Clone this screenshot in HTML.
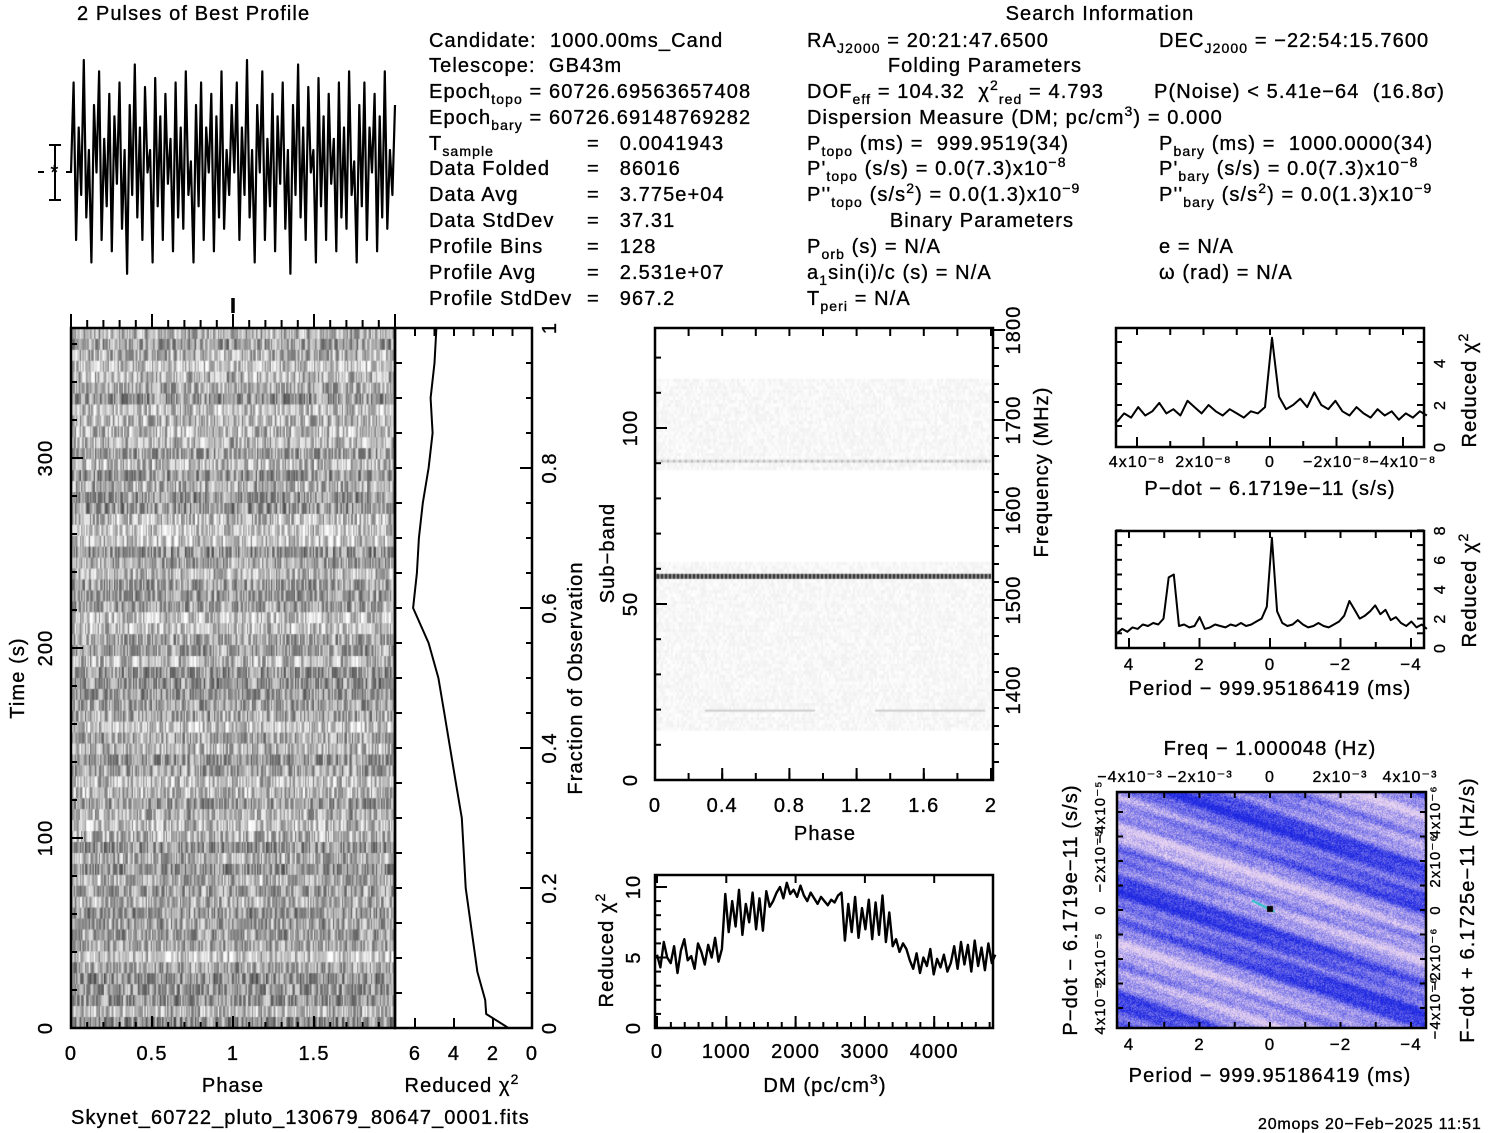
<!DOCTYPE html>
<html><head><meta charset="utf-8"><style>
html,body{margin:0;padding:0;background:#fff;width:1512px;height:1133px;overflow:hidden;position:relative}
canvas{position:absolute}
svg{position:absolute;left:0;top:0}
text{font-family:"Liberation Sans",sans-serif;font-size:20px;fill:#000;letter-spacing:1.1px;white-space:pre;stroke:#000;stroke-width:0.35px}
</style></head><body>
<canvas id="grey" width="324" height="700" style="left:71px;top:328px;width:324px;height:700px"></canvas>
<canvas id="sub" width="338" height="452" style="left:655px;top:328px;width:338px;height:452px"></canvas>
<canvas id="map" width="309" height="236" style="left:1117px;top:792px;width:309px;height:236px"></canvas>
<svg id="s" width="1512" height="1133">
<g>
<text x="77" y="20">2 Pulses of Best Profile</text>
<text x="1100" y="20" text-anchor="middle">Search Information</text>
</g>
<g>
<text x="429" y="47">Candidate:  1000.00ms_Cand</text>
<text x="429" y="72">Telescope:  GB43m</text>
<text x="429" y="98">Epoch<tspan font-size="14" dy="6">topo</tspan><tspan dy="-6"> = 60726.69563657408</tspan></text>
<text x="429" y="124">Epoch<tspan font-size="14" dy="6">bary</tspan><tspan dy="-6"> = 60726.69148769282</tspan></text>
<text x="429" y="150">T<tspan font-size="14" dy="6">sample</tspan></text><text x="587" y="150">=   0.0041943</text>
<text x="429" y="175">Data Folded</text><text x="587" y="175">=   86016</text>
<text x="429" y="201">Data Avg</text><text x="587" y="201">=   3.775e+04</text>
<text x="429" y="227">Data StdDev</text><text x="587" y="227">=   37.31</text>
<text x="429" y="253">Profile Bins</text><text x="587" y="253">=   128</text>
<text x="429" y="279">Profile Avg</text><text x="587" y="279">=   2.531e+07</text>
<text x="429" y="305">Profile StdDev</text><text x="587" y="305">=   967.2</text>
</g>
<g>
<text x="807" y="47">RA<tspan font-size="14" dy="6">J2000</tspan><tspan dy="-6"> = 20:21:47.6500</tspan></text>
<text x="985" y="72" text-anchor="middle">Folding Parameters</text>
<text x="807" y="98">DOF<tspan font-size="14" dy="6">eff</tspan><tspan dy="-6"> = 104.32  χ</tspan><tspan font-size="14" dy="-8">2</tspan><tspan font-size="14" dy="14">red</tspan><tspan dy="-6"> = 4.793</tspan></text>
<text x="807" y="124">Dispersion Measure (DM; pc/cm<tspan font-size="14" dy="-8">3</tspan><tspan dy="8">) = 0.000</tspan></text>
<text x="807" y="150">P<tspan font-size="14" dy="6">topo</tspan><tspan dy="-6"> (ms) =  999.9519(34)</tspan></text>
<text x="807" y="175">P'<tspan font-size="14" dy="6">topo</tspan><tspan dy="-6"> (s/s) = 0.0(7.3)x10</tspan><tspan font-size="14" dy="-8">−8</tspan></text>
<text x="807" y="201">P''<tspan font-size="14" dy="6">topo</tspan><tspan dy="-6"> (s/s</tspan><tspan font-size="14" dy="-8">2</tspan><tspan dy="8">) = 0.0(1.3)x10</tspan><tspan font-size="14" dy="-8">−9</tspan></text>
<text x="982" y="227" text-anchor="middle">Binary Parameters</text>
<text x="807" y="253">P<tspan font-size="14" dy="6">orb</tspan><tspan dy="-6"> (s) = N/A</tspan></text>
<text x="807" y="279">a<tspan font-size="14" dy="6">1</tspan><tspan dy="-6">sin(i)/c (s) = N/A</tspan></text>
<text x="807" y="305">T<tspan font-size="14" dy="6">peri</tspan><tspan dy="-6"> = N/A</tspan></text>
</g>
<g>
<text x="1159" y="47">DEC<tspan font-size="14" dy="6">J2000</tspan><tspan dy="-6"> = −22:54:15.7600</tspan></text>
<text x="1154" y="98">P(Noise) &lt; 5.41e−64  (16.8σ)</text>
<text x="1159" y="150">P<tspan font-size="14" dy="6">bary</tspan><tspan dy="-6"> (ms) =  1000.0000(34)</tspan></text>
<text x="1159" y="175">P'<tspan font-size="14" dy="6">bary</tspan><tspan dy="-6"> (s/s) = 0.0(7.3)x10</tspan><tspan font-size="14" dy="-8">−8</tspan></text>
<text x="1159" y="201">P''<tspan font-size="14" dy="6">bary</tspan><tspan dy="-6"> (s/s</tspan><tspan font-size="14" dy="-8">2</tspan><tspan dy="8">) = 0.0(1.3)x10</tspan><tspan font-size="14" dy="-8">−9</tspan></text>
<text x="1159" y="253">e = N/A</text>
<text x="1159" y="279">ω (rad) = N/A</text>
</g>
<g>
<text x="233" y="1092" text-anchor="middle">Phase</text>
<text x="462" y="1092" text-anchor="middle">Reduced χ<tspan font-size="14" dy="-8">2</tspan></text>
<text transform="translate(24,678) rotate(-90)" text-anchor="middle">Time (s)</text>
<text transform="translate(582,678) rotate(-90)" text-anchor="middle">Fraction of Observation</text>
<text transform="translate(614,553) rotate(-90)" text-anchor="middle">Sub−band</text>
<text transform="translate(1048,472) rotate(-90)" text-anchor="middle">Frequency (MHz)</text>
<text x="825" y="840" text-anchor="middle">Phase</text>
<text x="825" y="1092" text-anchor="middle">DM (pc/cm<tspan font-size="14" dy="-8">3</tspan><tspan dy="8">)</tspan></text>
<text transform="translate(613,950) rotate(-90)" text-anchor="middle">Reduced χ<tspan font-size="14" dy="-8">2</tspan></text>
<text transform="translate(1476,390) rotate(-90)" text-anchor="middle">Reduced χ<tspan font-size="14" dy="-8">2</tspan></text>
<text x="1270" y="495" text-anchor="middle">P−dot − 6.1719e−11 (s/s)</text>
<text transform="translate(1476,590) rotate(-90)" text-anchor="middle">Reduced χ<tspan font-size="14" dy="-8">2</tspan></text>
<text x="1270" y="695" text-anchor="middle">Period − 999.95186419 (ms)</text>
<text x="1270" y="755" text-anchor="middle">Freq − 1.000048 (Hz)</text>
<text transform="translate(1077,910) rotate(-90)" text-anchor="middle">P−dot − 6.1719e−11 (s/s)</text>
<text transform="translate(1474,910) rotate(-90)" text-anchor="middle">F−dot + 6.1725e−11 (Hz/s)</text>
<text x="1270" y="1082" text-anchor="middle">Period − 999.95186419 (ms)</text>
<text x="71" y="1124" font-size="21">Skynet_60722_pluto_130679_80647_0001.fits</text>
<text x="1258" y="1129" style="font-size:16px;letter-spacing:0.8px">20mops 20−Feb−2025 11:51</text>
</g>
<g id="marks"></g>
</svg>
<script>
// ---- data ----
const profileVals=[0.5,0.9,0.2,0.7,0.4,1.0,0.3,0.6,0.1,0.8,0.5,0.95,0.2,0.65,0.35,0.85,0.15,0.75,0.45,0.9,0.25,0.6,0.05,0.8,0.4,0.98,0.3,0.7,0.2,0.88,0.5,0.6,0.1,0.92,0.35,0.75,0.2,0.85,0.45,0.65,0.15,0.9,0.3,0.7,0.25,0.95,0.4,0.55,0.1,0.8,0.35,0.9,0.2,0.7,0.5,0.85,0.15,0.75,0.3,0.95,0.25,0.6,0.4,0.8];
const chiFractions=[0,0.02,0.04,0.08,0.12,0.16,0.2,0.25,0.3,0.35,0.4,0.45,0.5,0.55,0.6,0.65,0.7,0.75,0.8,0.85,0.9,0.95,1.0];
const chiValues=[1.2,2.35,2.4,2.8,3.0,3.2,3.4,3.5,3.6,3.9,4.2,4.5,4.8,5.3,6.1,5.9,5.8,5.6,5.3,5.1,5.2,5.0,4.9];
const dmStart=0, dmEnd=4880;
const dmChi=[5.2,4.3,6.1,5.0,4.6,5.8,3.9,5.5,6.3,4.8,5.1,4.2,6.0,5.4,4.5,5.9,5.0,6.4,4.7,5.6,
9.5,6.8,9.0,7.2,9.8,6.6,8.8,7.5,9.6,7.0,9.2,6.9,9.7,
8.6,9.0,9.6,10.0,9.2,10.3,9.5,9.8,9.3,10.1,9.4,9.0,9.6,9.2,8.8,9.3,9.0,8.7,9.1,8.9,9.4,
9.6,6.2,8.8,6.8,9.3,6.4,8.5,7.0,9.1,6.3,8.9,6.6,9.4,6.1,8.2,
5.8,6.3,5.4,6.0,5.6,4.8,
4.2,5.3,3.9,5.0,4.4,5.6,3.8,4.9,4.3,5.2,4.0,4.6,
5.8,4.2,6.1,4.5,5.9,4.0,6.2,4.4,5.7,4.1,6.0,4.6,5.2];
const pdotStart=4.6, pdotEnd=-4.72; // units of 1e-8
const pdotChi=[1.2,1.6,1.4,1.9,1.5,1.7,2.1,1.6,1.8,1.5,2.2,1.9,1.6,2.0,1.7,1.5,1.8,1.6,1.4,1.7,1.6,1.9,5.2,2.4,1.8,2.0,2.3,1.9,2.6,2.0,1.8,2.2,1.7,1.5,1.9,1.6,1.4,1.8,1.5,1.7,1.3,1.6,1.4,1.7,1.5];
const perStart=4.34, perEnd=-4.45; // ms
const perChi=[1.0,1.3,1.1,1.4,1.3,1.6,1.5,1.7,1.6,2.0,4.8,5.0,1.5,1.6,1.4,1.5,2.1,1.3,1.4,1.6,1.5,1.4,1.6,1.5,1.7,1.5,1.6,1.8,2.0,2.8,7.5,2.5,1.7,1.5,1.6,1.9,1.6,1.4,1.5,1.7,1.5,1.4,1.6,1.8,2.2,3.2,2.6,2.0,2.2,2.5,2.9,2.3,2.6,1.9,2.1,1.7,1.5,1.8,1.4,1.6,1.3];
const timeTicks=["0","100","200","300"];
const phaseTicks=["0","0.5","1","1.5"];
const chiTicks=["6","4","2","0"];
const fracTicks=["0","0.2","0.4","0.6","0.8","1"];
const subTicks=["0","50","100"];
const subPhaseTicks=["0","0.4","0.8","1.2","1.6","2"];
const freqTicks=["1400","1500","1600","1700","1800"];
const dmTicks=["0","1000","2000","3000","4000"];
const dmChiTicks=["0","5","10"];

const NS="http://www.w3.org/2000/svg";
const G=document.getElementById('marks');
function mk(tag,attrs,name){const e=document.createElementNS(NS,tag);for(const k in attrs)e.setAttribute(k,attrs[k]);


G.appendChild(e);return e;}
function ln(x1,y1,x2,y2,name,w){return mk('line',{x1,y1,x2,y2,stroke:'#000','stroke-width':w||2},name);}
function tx(x,y,s,name,anchor,rot,fs){const e=mk('text',{x:rot?0:x,y:rot?0:y,'text-anchor':anchor||'middle'},name);
if(rot)e.setAttribute('transform','translate('+x+','+y+') rotate(-90)');if(fs)e.style.fontSize=fs+'px';e.textContent=s;return e;}
function box(x,y,w,h,name){return mk('rect',{x,y,width:w,height:h,fill:'none',stroke:'#000','stroke-width':2.5},name);}
function poly(pts,name,w){return mk('polyline',{points:pts.map(p=>p[0].toFixed(1)+','+p[1].toFixed(1)).join(' '),fill:'none',stroke:'#000','stroke-width':w||2,'stroke-linejoin':'round'},name);}
function ticks(vals,pos,fixed,vert,len,dir,name){vals.forEach(v=>{const p=pos(v);
if(vert)ln(fixed,p,fixed+dir*len,p,name);else ln(p,fixed,p,fixed+dir*len,name);});}
function range(a,b,s){const r=[];for(let v=a;v<=b+1e-9;v+=s)r.push(+v.toFixed(6));return r;}

// ---- profile ----
const profX=i=>71+i*(324/(profileVals.length*2-1));
const profY=v=>285-v*225;
const pp=[];for(let k=0;k<2;k++)profileVals.forEach((v,i)=>pp.push([profX(k*profileVals.length+i),profY(v)]));
poly(pp,'profile-line',2.2);
ln(233,298,233,313,'peak-marker',3.5);
ln(55,145,55,200,'error-bar',2);ln(49,145,61,145,'error-cap-top',2);ln(49,200,61,200,'error-cap-bottom',2);
ln(38,172,44,172,'error-dash-left',2);ln(66,172,72,172,'error-dash-right',2);tx(55,179,'*','error-star');

// ---- time/phase greyscale ----
(function(){const c=document.getElementById('grey').getContext('2d');
let s=12345;function r(){s=(s*1103515245+12345)&0x7fffffff;return s/0x7fffffff;}
const rows=64,cols=256,rh=700/rows,cw=324/cols;const rowOff=[];for(let j=0;j<rows;j++)rowOff.push((r()-0.5)*60);
for(let j=0;j<rows;j++)for(let i=0;i<128;i++){const g=Math.max(40,Math.min(255,Math.round(170+rowOff[j]+(r()-0.5)*150)));
c.fillStyle='rgb('+g+','+g+','+g+')';c.fillRect(i*cw,j*rh,cw+0.6,rh+0.6);c.fillRect((i+128)*cw,j*rh,cw+0.6,rh+0.6);}})();
const tY=t=>1028-t*1.9, phX=p=>71+p*162;
box(71,328,324,700,'greyscale-frame');
ticks(range(0,360,20),tY,71,true,6,1,'time-minor-tick');
ticks(timeTicks.map(Number),tY,71,true,12,1,'time-major-tick');
timeTicks.forEach(t=>tx(52,tY(+t),t,'time-tick-label','middle',true));
ticks(range(0,2,0.1),phX,1028,false,6,-1,'phase-minor-tick');
ticks(range(0,2,0.1),phX,328,false,8,-1,'phase-top-tick');
ticks(range(0,2,0.5),phX,328,false,14,-1,'phase-top-major');
ticks(range(0,2,0.5),phX,1028,false,12,-1,'phase-major-tick');
phaseTicks.forEach(p=>tx(phX(+p),1060,p,'phase-tick-label'));

// ---- chi2 vs fraction ----
const cX=v=>532-v*19.5, fY=f=>1028-f*700;
box(395,328,137,700,'chi2-frame');
poly(chiFractions.map((f,i)=>[cX(chiValues[i]),fY(f)]),'chi2-fraction-line',2);
ticks(range(0,1,0.05),fY,395,true,7,1,'chi2-left-tick');
ticks(range(0,1,0.05),fY,532,true,6,-1,'fraction-minor-tick');
ticks(range(0,1,0.2),fY,532,true,12,-1,'fraction-major-tick');
ticks(range(0,6,1),cX,328,false,8,1,'chi2-top-tick');
ticks(range(0,6,2),cX,1028,false,10,-1,'chi2-bottom-tick');
chiTicks.forEach(v=>tx(cX(+v),1060,v,'chi2-tick-label'));
fracTicks.forEach(f=>tx(556,fY(+f),f,'fraction-tick-label','middle',true));

// ---- subband plot ----
(function(){const c=document.getElementById('sub').getContext('2d');
let s=777;function r(){s=(s*1103515245+12345)&0x7fffffff;return s/0x7fffffff;}
const sy=b=>452-b*3.52;
for(let b=14;b<114;b++){if(b>=62&&b<88)continue;for(let i=0;i<168;i++){const g=Math.round(240+r()*14);c.fillStyle='rgb('+g+','+g+','+g+')';c.fillRect(i*2,sy(b+1),2,3.6);}}
for(let i=0;i<168;i++){c.fillStyle=i%2?'#333':'#888';c.fillRect(i*2,sy(58)-2,2,5);c.fillStyle=i%3?'#ddd':'#bbb';c.fillRect(i*2,sy(91),2,3);}
c.fillStyle='#ccc';c.fillRect(50,sy(20),110,2);c.fillRect(220,sy(20),110,2);})();
const sbY=b=>780-b*3.52, spX=p=>655+p*168, frY=f=>690-(f-1400)*0.9;
box(655,328,338,452,'subband-frame');
ticks(range(0,120,10),sbY,655,true,6,1,'subband-minor-tick');
ticks(range(0,100,50),sbY,655,true,12,1,'subband-major-tick');
subTicks.forEach(b=>tx(637,sbY(+b),b,'subband-tick-label','middle',true));
ticks(range(0,2,0.2),spX,780,false,7,-1,'subphase-minor-tick');
ticks(range(0,2,0.4),spX,780,false,12,-1,'subphase-major-tick');
ticks(range(0,2,0.2),spX,328,false,8,1,'subphase-top-tick');
subPhaseTicks.forEach(p=>tx(spX(+p),812,p,'subphase-tick-label'));
ticks(range(1320,1800,20),frY,993,true,6,1,'freq-minor-tick');
ticks(freqTicks.map(Number),frY,993,true,12,1,'freq-major-tick');
freqTicks.forEach(f=>tx(1020,frY(+f),f,'freq-tick-label','middle',true));

// ---- DM plot ----
const dX=d=>657+d*0.0693, dcY=v=>1028-v*14.1;
box(655,875,338,153,'dm-frame');
poly(dmChi.map((v,i)=>[dX(dmStart+i*(dmEnd-dmStart)/(dmChi.length-1)),dcY(v)]),'dm-chi2-line',2.4);
ticks(range(0,4800,200),dX,1028,false,6,-1,'dm-minor-tick');
ticks(range(0,4000,1000),dX,1028,false,12,-1,'dm-major-tick');
ticks(range(0,4000,1000),dX,875,false,8,1,'dm-top-tick');
dmTicks.forEach(d=>tx(dX(+d),1058,d,'dm-tick-label'));
ticks(range(0,10,1),dcY,655,true,6,1,'dmchi-minor-tick');
ticks(range(0,10,5),dcY,655,true,12,1,'dmchi-major-tick');
dmChiTicks.forEach(v=>tx(640,dcY(+v),v,'dmchi-tick-label','middle',true));

// ---- Pdot plot ----
const pdX=v=>1270-v*33.25, pdY=v=>447-v*21;
box(1116,328,308,119,'pdot-frame');
poly(pdotChi.map((v,i)=>[pdX(pdotStart+i*(pdotEnd-pdotStart)/(pdotChi.length-1)),pdY(v)]),'pdot-chi2-line',2);
ticks(range(-4,4,1),pdX,447,false,6,-1,'pdot-minor-tick');ticks(range(-4,4,2),pdX,447,false,10,-1,'pdot-major-tick');
ticks(range(-4,4,1),pdX,328,false,7,1,'pdot-top-tick');
ticks(range(0,5,1),pdY,1116,true,6,1,'pdot-left-tick');ticks(range(0,5,1),pdY,1424,true,7,-1,'pdot-right-tick');
[['4x10⁻⁸',4],['2x10⁻⁸',2],['0',0],['−2x10⁻⁸',-2],['−4x10⁻⁸',-4]].forEach(a=>tx(pdX(a[1]),467,a[0],'pdot-tick-label','middle',false,16));
['0','2','4'].forEach(v=>tx(1445,pdY(+v),v,'pdot-y-label','middle',true,16));

// ---- Period plot ----
const prX=v=>1270-v*35.25, prY=v=>648-v*14.7;
box(1116,531,308,117,'period-frame');
poly(perChi.map((v,i)=>[prX(perStart+i*(perEnd-perStart)/(perChi.length-1)),prY(v)]),'period-chi2-line',2);
ticks(range(-4,4,1),prX,648,false,6,-1,'period-minor-tick');ticks(range(-4,4,2),prX,648,false,10,-1,'period-major-tick');
ticks(range(-4,4,1),prX,531,false,7,1,'period-top-tick');
ticks(range(0,8,1),prY,1116,true,6,1,'period-left-tick');ticks(range(0,8,1),prY,1424,true,7,-1,'period-right-tick');
['4','2','0','−2','−4'].forEach((s,i)=>tx(prX(4-2*i),670,s,'period-tick-label','middle',false,17));
['0','2','4','6','8'].forEach(v=>tx(1445,prY(+v),v,'period-y-label','middle',true,16));

// ---- 2D map ----
(function(){const c=document.getElementById('map').getContext('2d');const W=309,H=236;const im=c.createImageData(W,H);
let s=4242;function r(){s=(s*1103515245+12345)&0x7fffffff;return s/0x7fffffff;}
for(let y=0;y<H;y++)for(let x=0;x<W;x++){const u=y-x*0.42;
let v=0.5+0.28*Math.sin(u*0.05)+0.18*Math.sin(u*0.17+1+x*0.02)+0.12*Math.sin(u*0.43+x*0.03)+(r()-0.5)*0.5;
v=Math.max(0,Math.min(1,v));const k=(y*W+x)*4;
im.data[k]=Math.round(30+200*v);im.data[k+1]=Math.round(40+170*v);im.data[k+2]=Math.round(225+15*v);im.data[k+3]=255;}
c.putImageData(im,0,0);
c.fillStyle='#1ec8c8';for(let i=0;i<14;i++)c.fillRect(135+i*1.6,108+i*0.8,2,2);
c.fillStyle='#000';c.fillRect(150,114,6,6);})();
box(1117,792,309,236,'map-frame');
const mX=v=>1270-v*35.25, mY=v=>910-v*24.5;
ticks(range(-4,4,1),mX,1028,false,6,-1,'map-bottom-tick');ticks(range(-4,4,1),mX,792,false,6,1,'map-top-tick');
ticks(range(-4,4,1),mY,1117,true,6,1,'map-left-tick');ticks(range(-4,4,1),mY,1426,true,6,-1,'map-right-tick');
['4','2','0','−2','−4'].forEach((s,i)=>tx(mX(4-2*i),1050,s,'map-x-label','middle',false,17));
['−4x10⁻³','−2x10⁻³','0','2x10⁻³','4x10⁻³'].forEach((s,i)=>tx(1130+i*70,782,s,'map-freq-label','middle',false,16));
['4x10⁻⁵','2x10⁻⁵','0','−2x10⁻⁵','−4x10⁻⁵'].forEach((s,i)=>tx(1105,mY(-4+2*i),s,'map-pdot-label','middle',true,15));
['−4x10⁻⁶','−2x10⁻⁶','0','2x10⁻⁶','4x10⁻⁶'].forEach((s,i)=>tx(1440,mY(-4+2*i),s,'map-fdot-label','middle',true,15));
</script>
</body></html>
